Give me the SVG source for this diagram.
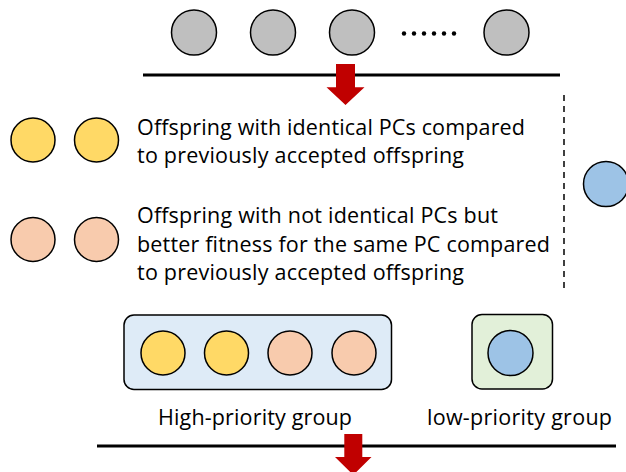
<svg xmlns="http://www.w3.org/2000/svg" width="626" height="472" viewBox="0 0 626 472">
  <style>
    .c { stroke: #000; stroke-width: 1.5; }
    .gray { fill: #bfbfbf; }
    .yellow { fill: #ffd966; }
    .peach { fill: #f8cbad; }
    .blue { fill: #9dc3e6; }
    .t { font-family: "Open Sans", "Liberation Sans", Arial, sans-serif; font-size: 21.5px; fill: #000; }
    .rule { stroke: #000; stroke-width: 3; fill: none; }
    .arrow { fill: #c00000; }
  </style>
  <rect width="626" height="472" fill="#fff"/>

  <!-- input population -->
  <g id="population">
    <circle class="c gray" cx="194" cy="32.5" r="22.5"/>
    <circle class="c gray" cx="273" cy="32.5" r="22.5"/>
    <circle class="c gray" cx="352" cy="32.5" r="22.5"/>
    <g fill="#000">
      <circle cx="404" cy="33.5" r="2.2"/>
      <circle cx="414" cy="33.5" r="2.2"/>
      <circle cx="424" cy="33.5" r="2.2"/>
      <circle cx="434" cy="33.5" r="2.2"/>
      <circle cx="444" cy="33.5" r="2.2"/>
      <circle cx="454" cy="33.5" r="2.2"/>
    </g>
    <circle class="c gray" cx="506.5" cy="32.5" r="22.5"/>
  </g>

  <!-- connectors: rules, flow arrows, divider -->
  <g id="connectors">
    <line class="rule" x1="143" y1="75" x2="560" y2="75"/>
    <polygon class="arrow" points="336,64 355,64 355,87.3 364.5,87.3 345.5,105 326.5,87.3 336,87.3"/>
    <line x1="564" y1="95" x2="564" y2="290" stroke="#000" stroke-width="1.5" stroke-dasharray="6,5"/>
    <line class="rule" x1="97" y1="446" x2="616" y2="446"/>
    <polygon class="arrow" points="344.3,434 362.3,434 362.3,457 371.5,457 353.3,475 335,457 344.3,457"/>
  </g>

  <!-- category: identical PCs -->
  <g id="identical">
    <circle class="c yellow" cx="33" cy="140" r="22"/>
    <circle class="c yellow" cx="96.5" cy="140" r="22"/>
    <text class="t" x="137" y="135" textLength="388">Offspring with identical PCs compared</text>
    <text class="t" x="137" y="163" textLength="327">to previously accepted offspring</text>
  </g>

  <!-- category: better fitness -->
  <g id="better-fitness">
    <circle class="c peach" cx="33" cy="239.5" r="22"/>
    <circle class="c peach" cx="96.5" cy="239.5" r="22"/>
    <text class="t" x="137" y="223" textLength="361">Offspring with not identical PCs but</text>
    <text class="t" x="137" y="252" textLength="413">better fitness for the same PC compared</text>
    <text class="t" x="137" y="280" textLength="327">to previously accepted offspring</text>
  </g>

  <!-- remaining offspring -->
  <g id="other">
    <circle class="c blue" cx="606" cy="184" r="22.5"/>
  </g>

  <!-- high-priority group -->
  <g id="high-priority">
    <rect x="124" y="315" width="267.5" height="74.5" rx="10" fill="#deebf7" stroke="#000" stroke-width="1.5"/>
    <circle class="c yellow" cx="163" cy="353" r="22"/>
    <circle class="c yellow" cx="226.5" cy="353" r="22"/>
    <circle class="c peach" cx="290" cy="353" r="22"/>
    <circle class="c peach" cx="354" cy="353" r="22"/>
    <text class="t" x="158" y="425" textLength="194">High-priority group</text>
  </g>

  <!-- low-priority group -->
  <g id="low-priority">
    <rect x="472" y="314.5" width="80.5" height="74.5" rx="10" fill="#e2f0d9" stroke="#000" stroke-width="1.5"/>
    <circle class="c blue" cx="510.5" cy="353" r="22.5"/>
    <text class="t" x="427" y="425" textLength="185">low-priority group</text>
  </g>
</svg>
